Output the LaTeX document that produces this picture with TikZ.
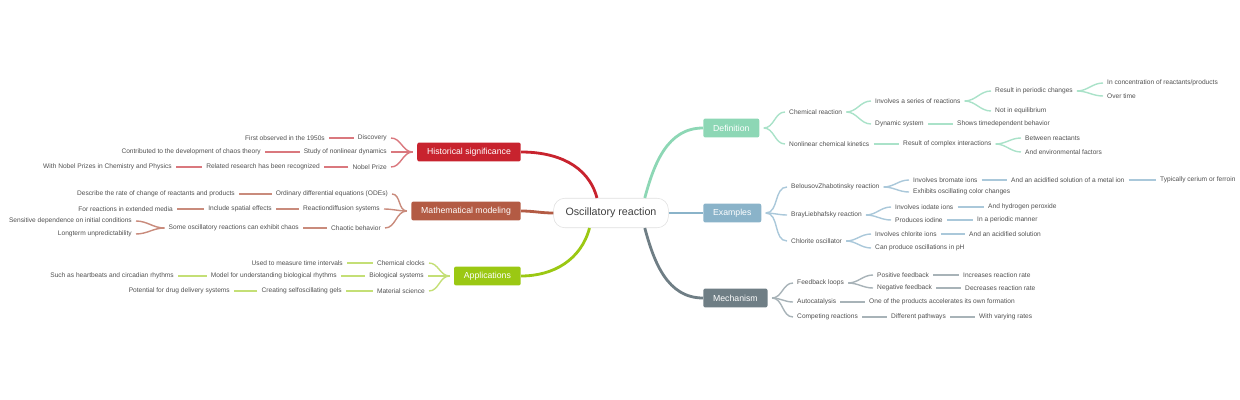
\documentclass[tikz,border=0pt]{standalone}
\usepackage{fontspec}
\setmainfont{Liberation Sans}
\definecolor{darkmint}{RGB}{141,215,181}
\definecolor{lightmint}{RGB}{170,226,201}
\definecolor{darkblue}{RGB}{138,179,201}
\definecolor{lightblue}{RGB}{170,200,218}
\definecolor{darkslate}{RGB}{111,126,133}
\definecolor{lightslate}{RGB}{168,179,184}
\definecolor{darkred}{RGB}{200,35,46}
\definecolor{lightred}{RGB}{218,120,126}
\definecolor{darkbrown}{RGB}{179,91,68}
\definecolor{lightbrown}{RGB}{201,139,124}
\definecolor{darkgreen}{RGB}{155,200,19}
\definecolor{lightgreen}{RGB}{196,223,118}
\definecolor{leaftext}{RGB}{80,80,80}

\begin{document}
\begin{tikzpicture}[x=0.025cm,y=-0.025cm,
  leaf/.style={font=\fontsize{4.7}{5.6}\selectfont, text=leaftext, inner xsep=2.8pt, inner ysep=1pt},
  rleaf/.style={leaf, anchor=west},
  lleaf/.style={leaf, anchor=east},
  topic/.style={font=\fontsize{6.2}{7.4}\selectfont, text=white, fill=#1, rounded corners=1.5pt, minimum height=13.5pt, inner xsep=7pt, inner ysep=0pt},
  mainline/.style={draw=#1, line width=2pt},
  subline/.style={draw=#1, line width=1pt}]

\useasboundingbox (0,0) rectangle (1240,400);

\node[draw=black!12, fill=white, rounded corners=8pt, minimum height=21pt, inner xsep=8.5pt, font=\fontsize{7.6}{9}\selectfont, text=black!75] (root) at (611,213) {Oscillatory reaction};

\node[topic=darkmint, anchor=west] (def) at (703,128) {Definition};
\node[rleaf] (chem) at (785,112) {Chemical reaction};
\node[rleaf] (nonlin) at (785,144) {Nonlinear chemical kinetics};
\node[rleaf] (series) at (871,101) {Involves a series of reactions};
\node[rleaf] (dyn) at (871,124) {Dynamic system};
\node[rleaf] (periodic) at (991,91) {Result in periodic changes};
\node[rleaf] (noneq) at (991,111) {Not in equilibrium};
\node[rleaf] (conc) at (1103,83) {In concentration of reactants/products};
\node[rleaf] (overtime) at (1103,96) {Over time};
\node[rleaf] (timedep) at (953,124) {Shows timedependent behavior};
\node[rleaf] (complex) at (899,144) {Result of complex interactions};
\node[rleaf] (between) at (1021,138) {Between reactants};
\node[rleaf] (envir) at (1021,152) {And environmental factors};

\node[topic=darkblue, anchor=west] (ex) at (703,213) {Examples};
\node[rleaf] (bz) at (787,187) {BelousovZhabotinsky reaction};
\node[rleaf] (bl) at (787,215) {BrayLiebhafsky reaction};
\node[rleaf] (chlorite) at (787,241) {Chlorite oscillator};
\node[rleaf] (bromate) at (909,180) {Involves bromate ions};
\node[rleaf] (colour) at (909,192) {Exhibits oscillating color changes};
\node[rleaf] (metal) at (1007,180) {And an acidified solution of a metal ion};
\node[rleaf] (ferroin) at (1156,180) {Typically cerium or ferroin};
\node[rleaf] (iodate) at (891,207) {Involves iodate ions};
\node[rleaf] (iodine) at (891,220) {Produces iodine};
\node[rleaf] (peroxide) at (984,207) {And hydrogen peroxide};
\node[rleaf] (manner) at (973,220) {In a periodic manner};
\node[rleaf] (chlions) at (871,234) {Involves chlorite ions};
\node[rleaf] (ph) at (871,248) {Can produce oscillations in pH};
\node[rleaf] (acidified) at (965,234) {And an acidified solution};

\node[topic=darkslate, anchor=west] (mech) at (703,298) {Mechanism};
\node[rleaf] (loops) at (793,283) {Feedback loops};
\node[rleaf] (auto) at (793,302) {Autocatalysis};
\node[rleaf] (competing) at (793,317) {Competing reactions};
\node[rleaf] (positive) at (873,275) {Positive feedback};
\node[rleaf] (negative) at (873,288) {Negative feedback};
\node[rleaf] (increases) at (959,275) {Increases reaction rate};
\node[rleaf] (decreases) at (961,288) {Decreases reaction rate};
\node[rleaf] (ownform) at (865,302) {One of the products accelerates its own formation};
\node[rleaf] (pathways) at (887,317) {Different pathways};
\node[rleaf] (rates) at (975,317) {With varying rates};

\node[topic=darkred, anchor=east] (hist) at (521,152) {Historical significance};
\node[lleaf] (discovery) at (391,138) {Discovery};
\node[lleaf] (study) at (391,152) {Study of nonlinear dynamics};
\node[lleaf] (nobel) at (391,167) {Nobel Prize};
\node[lleaf] (fifties) at (329,138) {First observed in the 1950s};
\node[lleaf] (chaostheory) at (265,152) {Contributed to the development of chaos theory};
\node[lleaf] (recognized) at (324,167) {Related research has been recognized};
\node[lleaf] (prizes) at (176,167) {With Nobel Prizes in Chemistry and Physics};

\node[topic=darkbrown, anchor=east] (math) at (521,211) {Mathematical modeling};
\node[lleaf] (odes) at (392,194) {Ordinary differential equations (ODEs)};
\node[lleaf] (rdsys) at (384,209) {Reactiondiffusion systems};
\node[lleaf] (chaotic) at (385,228) {Chaotic behavior};
\node[lleaf] (ratechange) at (239,194) {Describe the rate of change of reactants and products};
\node[lleaf] (spatial) at (276,209) {Include spatial effects};
\node[lleaf] (media) at (177,209) {For reactions in extended media};
\node[lleaf] (exhibit) at (303,228) {Some oscillatory reactions can exhibit chaos};
\node[lleaf] (sensitive) at (136,221) {Sensitive dependence on initial conditions};
\node[lleaf] (longterm) at (136,234) {Longterm unpredictability};

\node[topic=darkgreen, anchor=east] (apps) at (521,276) {Applications};
\node[lleaf] (clocks) at (429,263) {Chemical clocks};
\node[lleaf] (biosys) at (428,276) {Biological systems};
\node[lleaf] (material) at (429,291) {Material science};
\node[lleaf] (intervals) at (347,263) {Used to measure time intervals};
\node[lleaf] (rhythms) at (341,276) {Model for understanding biological rhythms};
\node[lleaf] (heartbeats) at (178,276) {Such as heartbeats and circadian rhythms};
\node[lleaf] (gels) at (346,291) {Creating selfoscillating gels};
\node[lleaf] (drug) at (234,291) {Potential for drug delivery systems};

\draw[mainline=darkmint] (root.24) to[out=75,in=180] (def.west);
\draw[mainline=darkblue] (root.east) -- (ex.west);
\draw[mainline=darkslate] (root.-24) to[out=-75,in=180] (mech.west);
\draw[mainline=darkred] (root.133) to[out=105,in=0] (hist.east);
\draw[mainline=darkbrown] (root.west) to[out=180,in=0] (math.east);
\draw[mainline=darkgreen] (root.215) to[out=-105,in=0] (apps.east);

\foreach \b in {chem,nonlin}
\draw[subline=lightmint] ([xshift=3pt]def.east) to[out=0,in=180] (\b.west);
\foreach \a/\b in {chem/series, chem/dyn, series/periodic, series/noneq, periodic/conc, periodic/overtime, dyn/timedep, nonlin/complex, complex/between, complex/envir}
\draw[subline=lightmint] (\a.east) to[out=0,in=180] (\b.west);

\foreach \b in {bz,bl,chlorite}
\draw[subline=lightblue] ([xshift=3pt]ex.east) to[out=0,in=180] (\b.west);
\foreach \a/\b in {bz/bromate, bz/colour, bromate/metal, metal/ferroin, bl/iodate, bl/iodine, iodate/peroxide, iodine/manner, chlorite/chlions, chlorite/ph, chlions/acidified}
\draw[subline=lightblue] (\a.east) to[out=0,in=180] (\b.west);

\foreach \b in {loops,auto,competing}
\draw[subline=lightslate] ([xshift=3pt]mech.east) to[out=0,in=180] (\b.west);
\foreach \a/\b in {loops/positive, loops/negative, positive/increases, negative/decreases, auto/ownform, competing/pathways, pathways/rates}
\draw[subline=lightslate] (\a.east) to[out=0,in=180] (\b.west);

\foreach \b in {discovery,study,nobel}
\draw[subline=lightred] ([xshift=-3pt]hist.west) to[out=180,in=0] (\b.east);
\foreach \a/\b in {discovery/fifties, study/chaostheory, nobel/recognized, recognized/prizes}
\draw[subline=lightred] (\a.west) to[out=180,in=0] (\b.east);

\foreach \b in {odes,rdsys,chaotic}
\draw[subline=lightbrown] ([xshift=-3pt]math.west) to[out=180,in=0] (\b.east);
\foreach \a/\b in {odes/ratechange, rdsys/spatial, spatial/media, chaotic/exhibit, exhibit/sensitive, exhibit/longterm}
\draw[subline=lightbrown] (\a.west) to[out=180,in=0] (\b.east);

\foreach \b in {clocks,biosys,material}
\draw[subline=lightgreen] ([xshift=-3pt]apps.west) to[out=180,in=0] (\b.east);
\foreach \a/\b in {clocks/intervals, biosys/rhythms, rhythms/heartbeats, material/gels, gels/drug}
\draw[subline=lightgreen] (\a.west) to[out=180,in=0] (\b.east);
\end{tikzpicture}
\end{document}
